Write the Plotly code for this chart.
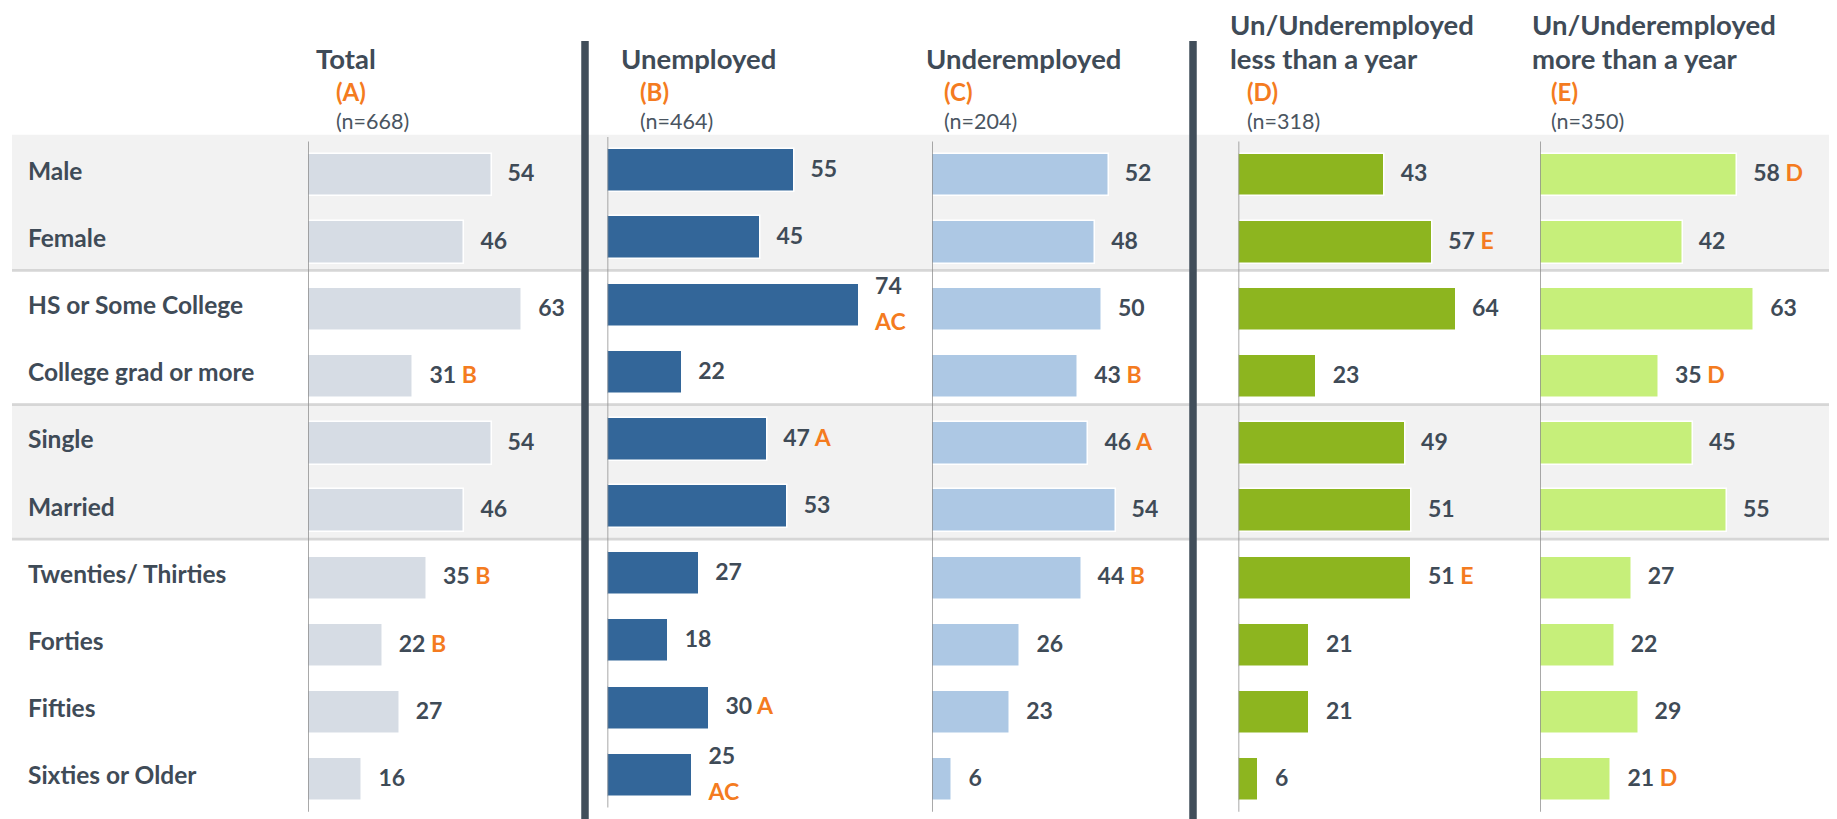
import plotly.graph_objects as go

# ---------------- data ----------------
categories = ["Male", "Female", "HS or Some College", "College grad or more",
              "Single", "Married", "Twenties/ Thirties", "Forties", "Fifties",
              "Sixties or Older"]

total_vals = [54, 46, 63, 31, 54, 46, 35, 22, 27, 16]
total_sig = ["", "", "", "B", "", "", "B", "B", "", ""]

unemp_vals = [55, 45, 74, 22, 47, 53, 27, 18, 30, 25]
unemp_sig = ["", "", "AC", "", "A", "", "", "", "A", "AC"]

under_vals = [52, 48, 50, 43, 46, 54, 44, 26, 23, 6]
under_sig = ["", "", "", "B", "A", "", "B", "", "", ""]

less_vals = [43, 57, 64, 23, 49, 51, 51, 21, 21, 6]
less_sig = ["", "E", "", "", "", "", "E", "", "", ""]

more_vals = [58, 42, 63, 35, 45, 55, 27, 22, 29, 21]
more_sig = ["D", "", "", "D", "", "", "", "", "", "D"]

panel_titles = [["Total"], ["Unemployed"], ["Underemployed"],
                ["Un/Underemployed", "less than a year"],
                ["Un/Underemployed", "more than a year"]]
panel_letters = ["(A)", "(B)", "(C)", "(D)", "(E)"]
panel_n = ["(n=668)", "(n=464)", "(n=204)", "(n=318)", "(n=350)"]

# ---------------- style ----------------
W, H = 1837, 819
OFF = 8  # page body margin
DARK = "#3F4B57"
ORANGE = "#F47B20"
N_TXT = "#4A5561"
colors = ["#D6DCE4", "#336699", "#ADC8E4", "#8DB51F", "#C6EF7A"]
FONT = "Lato"

panels = [(total_vals, total_sig), (unemp_vals, unemp_sig), (under_vals, under_sig),
          (less_vals, less_sig), (more_vals, more_sig)]


def px(x):
    return (x - OFF) / W


def py(y):
    return 1 - (y - OFF) / H


base_px = [308, 607.5, 932, 1238.5, 1540]   # pixel x of each panel baseline
title_px = [314, 619, 924, 1228, 1530]      # pixel x of header text
sub_px = [334, 638, 942, 1245, 1549]        # pixel x of letter / n text
panel_dy = [0, -4.3, 0, 0, 0]               # vertical nudge of each panel (px)
px_per_unit = 3.40
panel_w = 270

row0_px = 175.0 - OFF
row_step = 67.17


def yrange(dy):
    top = -(row0_px + dy) / row_step
    bot = (H - row0_px - dy) / row_step
    return [bot, top]


fig = go.Figure()

n = len(categories)
ys = list(range(n))
label_pad = 4.7  # data units between bar end and label
TXT_FONT = dict(family=FONT, size=23, color=DARK)

for i, ((vals, sig), col) in enumerate(zip(panels, colors)):
    xa = "x" if i == 0 else f"x{i+1}"
    ya = "y2" if panel_dy[i] else "y"
    fig.add_trace(go.Bar(
        x=vals, y=ys, orientation="h", xaxis=xa, yaxis=ya,
        marker=dict(color=col, line=dict(color="white", width=1.5)),
        width=0.64, hoverinfo="skip", showlegend=False))
    tx, ty, tt = [], [], []
    for v, s, y in zip(vals, sig, ys):
        if not s:
            tx.append(v + label_pad); ty.append(y + 0.01); tt.append(f"<b>{v}</b>")
        elif len(s) > 1:
            tx.append(v + label_pad); ty.append(y - 0.25); tt.append(f"<b>{v}</b>")
            tx.append(v + label_pad); ty.append(y + 0.29)
            tt.append(f"<b><span style='color:{ORANGE}'>{s}</span></b>")
        else:
            tx.append(v + label_pad); ty.append(y + 0.01)
            tt.append(f"<b>{v} <span style='color:{ORANGE}'>{s}</span></b>")
    fig.add_trace(go.Scatter(
        x=tx, y=ty, xaxis=xa, yaxis=ya, mode="text", text=tt,
        textposition="middle right", cliponaxis=False, textfont=TXT_FONT,
        hoverinfo="skip", showlegend=False))

# axes
layout_axes = {}
for i, bp in enumerate(base_px):
    key = "xaxis" if i == 0 else f"xaxis{i+1}"
    layout_axes[key] = dict(domain=[px(bp), px(bp + panel_w)],
                            range=[0, panel_w / px_per_unit],
                            visible=False, fixedrange=True, anchor="y")
layout_axes["yaxis"] = dict(range=yrange(0), visible=False, domain=[0, 1])
layout_axes["yaxis2"] = dict(range=yrange(-4.3), visible=False, domain=[0, 1],
                             overlaying="y", anchor="x2")

shapes = []
# grey bands
for a, b in [(0, 1), (4, 5)]:
    shapes.append(dict(type="rect", xref="paper", yref="y", x0=px(12), x1=1,
                       y0=a - 0.6, y1=b + 0.42, fillcolor="#F2F2F2",
                       line=dict(width=0), layer="below"))
# separators
for yv in [1.42, 3.42, 5.42]:
    shapes.append(dict(type="line", xref="paper", yref="y", x0=px(12), x1=1,
                       y0=yv, y1=yv, line=dict(color="#D6D6D6", width=2.7),
                       layer="below"))
# panel axis lines
for i in range(5):
    xr = "x" if i == 0 else f"x{i+1}"
    yr = "y2" if panel_dy[i] else "y"
    shapes.append(dict(type="line", xref=xr, yref=yr, x0=0, x1=0,
                       y0=-0.5, y1=n - 0.52, line=dict(color="#8C8C8C", width=1.5)))
# thick dividers
for dx in [585, 1193]:
    shapes.append(dict(type="line", xref="paper", yref="paper", x0=px(dx), x1=px(dx),
                       y0=0, y1=py(41), line=dict(color="#414E5A", width=7.5)))

annotations = []
# category labels
for j, c in enumerate(categories):
    annotations.append(dict(text=f"<b>{c}</b>", xref="paper", yref="y",
                            x=px(26), y=j - 0.07, xanchor="left", yanchor="middle",
                            showarrow=False,
                            font=dict(family=FONT, size=24.5, color=DARK)))
# headers
for i in range(5):
    lines = panel_titles[i]
    line_y = [58.6] if len(lines) == 1 else [24.6, 58.6]
    for t, ly in zip(lines, line_y):
        annotations.append(dict(text=f"<b>{t}</b>", xref="paper", yref="paper",
                                x=px(title_px[i]), y=py(ly), xanchor="left",
                                yanchor="middle", showarrow=False,
                                font=dict(family=FONT, size=27.5, color=DARK)))
    annotations.append(dict(text=f"<b>{panel_letters[i]}</b>", xref="paper", yref="paper",
                            x=px(sub_px[i]), y=py(91.4), xanchor="left",
                            yanchor="middle", showarrow=False,
                            font=dict(family=FONT, size=24, color=ORANGE)))
    annotations.append(dict(text=panel_n[i], xref="paper", yref="paper",
                            x=px(sub_px[i]), y=py(121), xanchor="left",
                            yanchor="middle", showarrow=False,
                            font=dict(family=FONT, size=21.5, color=N_TXT)))

fig.update_layout(width=W, height=H, margin=dict(l=0, r=0, t=0, b=0),
                  paper_bgcolor="white", plot_bgcolor="rgba(0,0,0,0)",
                  shapes=shapes, annotations=annotations, bargap=0,
                  showlegend=False, **layout_axes)

fig.write_html("out.html")
